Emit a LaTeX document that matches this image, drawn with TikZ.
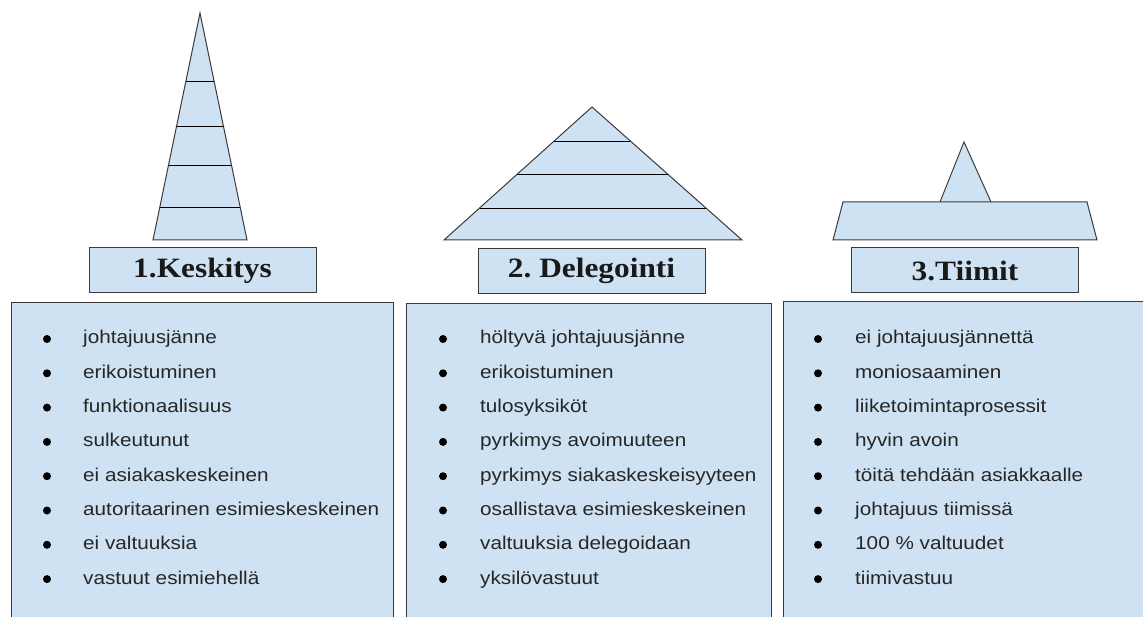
\documentclass[tikz,border=0pt]{standalone}
\usepackage{fontspec}
\setmainfont{Liberation Serif}[FakeStretch=1.12]
\setsansfont{Liberation Sans}[FakeStretch=1.12]
\usepackage{xcolor}
\usetikzlibrary{calc,positioning}
\definecolor{paleblue}{HTML}{CFE2F3}
\definecolor{edgegray}{HTML}{3A3A3A}

\tikzset{
  paper/.style={fill=paleblue, draw=edgegray, line width=1pt},
  titlebox/.style={paper, minimum width=227pt, minimum height=45pt, inner sep=0pt,
    font=\fontsize{28}{30}\selectfont\bfseries, text=black!90},
  listbox/.style={paper, anchor=north west, inner sep=0pt, minimum height=340pt},
  entry/.style={anchor=base west, inner sep=0pt, font=\sffamily\fontsize{18.5}{20}\selectfont, text=black!85},
  bullet/.style={circle, fill=black, inner sep=0pt, minimum size=8pt},
}

\begin{document}
\begin{tikzpicture}[x=1pt,y=-1pt]
    \useasboundingbox (0,0) rectangle (1143,617);
    \clip (0,0) rectangle (1143,617);

    % pyramids
    \coordinate (k top) at (200,13);
    \coordinate (k left) at (153,240);
    \coordinate (k right) at (247,240);
    \draw[paper] (k top) -- (k right) -- (k left) -- cycle;
    \foreach \t in {0.30,0.50,0.67,0.855}
        \draw[line width=1pt] ($(k top)!\t!(k left)$) -- ($(k top)!\t!(k right)$);

    \coordinate (d top) at (592,107);
    \coordinate (d left) at (444,240);
    \coordinate (d right) at (742,240);
    \draw[paper] (d top) -- (d right) -- (d left) -- cycle;
    \foreach \t in {0.256,0.504,0.76}
        \draw[line width=1pt] ($(d top)!\t!(d left)$) -- ($(d top)!\t!(d right)$);

    \coordinate (t top) at (964,142);
    \draw[paper] (940,202) -- (t top) -- (991,202);
    \draw[paper] (843,202) -- (1087,202) -- (1097,240) -- (833,240) -- cycle;

    % titles
    \node[titlebox] (keskitys) at (202.5,270.5) {1.Keskitys};
    \node[titlebox] (delegointi) at (591.5,271) {2.\ Delegointi};
    \node[titlebox] (tiimit) at (965,270.5) {3.Tiimit};

    % lists
    \node[listbox, minimum width=382pt] (klist) at (11,302) {};
    \node[listbox, minimum width=365pt] (dlist) at (406,303) {};
    \node[listbox, minimum width=370pt] (tlist) at (783,301) {};

    \foreach \txt [count=\i] in {johtajuusjänne, erikoistuminen, funktionaalisuus,
        sulkeutunut, ei asiakaskeskeinen, autoritaarinen esimieskeskeinen,
        ei valtuuksia, vastuut esimiehellä} {
        \node[bullet] (kdot\i) at (47,{339+34.3*(\i-1)}) {};
        \node[entry] (ktxt\i) at (83,{344+34.3*(\i-1)}) {\txt};
    }
    \foreach \txt [count=\i] in {höltyvä johtajuusjänne, erikoistuminen, tulosyksiköt,
        pyrkimys avoimuuteen, pyrkimys siakaskeskeisyyteen, osallistava esimieskeskeinen,
        valtuuksia delegoidaan, yksilövastuut} {
        \node[bullet] (ddot\i) at (443,{339+34.3*(\i-1)}) {};
        \node[entry] (dtxt\i) at (480,{344+34.3*(\i-1)}) {\txt};
    }
    \foreach \txt [count=\i] in {ei johtajuusjännettä, moniosaaminen, liiketoimintaprosessit,
        hyvin avoin, töitä tehdään asiakkaalle, johtajuus tiimissä,
        100 \% valtuudet, tiimivastuu} {
        \node[bullet] (tdot\i) at (818,{339+34.3*(\i-1)}) {};
        \node[entry] (ttxt\i) at (855,{344+34.3*(\i-1)}) {\txt};
    }
\end{tikzpicture}
\end{document}
